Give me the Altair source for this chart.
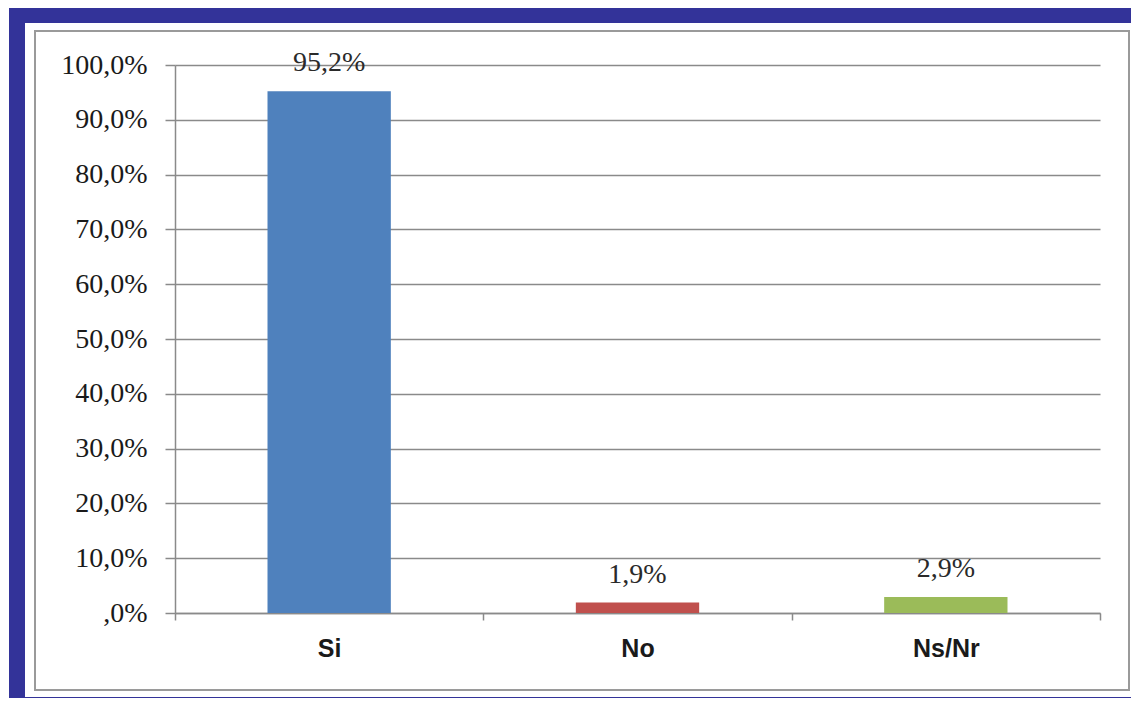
import altair as alt
import pandas as pd

categories = ["Si", "No", "Ns/Nr"]
values = [95.2, 1.9, 2.9]
colors = ["#4f81bd", "#c0504d", "#9bbb59"]
y_ticks = [0, 10, 20, 30, 40, 50, 60, 70, 80, 90, 100]

df = pd.DataFrame({"cat": categories, "val": values})

W, H = 925, 548

base = alt.Chart(df)

# decorative frame (dark blue band) and grey panel border
frame = alt.Chart(alt.Data(values=[{"k": 1}])).mark_rect(
    fillOpacity=0, stroke="#333399", strokeWidth=16
).encode(x=alt.value(-158), x2=alt.value(985), y=alt.value(-50), y2=alt.value(640))

panel = alt.Chart(alt.Data(values=[{"k": 1}])).mark_rect(
    fillOpacity=0, stroke="#9a9a9a", strokeWidth=2
).encode(x=alt.value(-140), x2=alt.value(954), y=alt.value(-34), y2=alt.value(625))

x_enc = alt.X(
    "cat:N",
    sort=categories,
    scale=alt.Scale(paddingInner=0, paddingOuter=0),
    axis=alt.Axis(
        title=None,
        labelAngle=0,
        tickBand="extent",
        tickSize=7,
        tickColor="#8a8a8a",
        tickWidth=1.5,
        domainColor="#8a8a8a",
        domainWidth=1.5,
        labelFont="Liberation Sans",
        labelFontWeight="bold",
        labelFontSize=25,
        labelColor="#1a1a1a",
        labelPadding=16,
    ),
)

bars = base.mark_bar(width=alt.RelativeBandSize(0.4)).encode(
    x=x_enc,
    y=alt.Y(
        "val:Q",
        scale=alt.Scale(domain=[0, 100], nice=False),
        axis=alt.Axis(
            title=None,
            values=y_ticks,
            labelExpr="datum.value == 0 ? ',0%' : replace(format(datum.value, '.1f'), '.', ',') + '%'",
            grid=True,
            gridColor="#8a8a8a",
            gridWidth=1.5,
            tickColor="#8a8a8a",
            tickWidth=1.5,
            tickSize=10,
            domainColor="#8a8a8a",
            domainWidth=1.5,
            labelFont="Liberation Serif",
            labelFontSize=28,
            labelColor="#1a1a1a",
            labelPadding=18,
        ),
    ),
    color=alt.Color("cat:N", scale=alt.Scale(domain=categories, range=colors), legend=None),
)

labels = base.transform_calculate(
    lab="replace(format(datum.val, '.1f'), '.', ',') + '%'"
).mark_text(
    font="Liberation Serif", fontSize=28, color="#2a2a2a", baseline="alphabetic", dy=-20
).encode(
    x=alt.X("cat:N", sort=categories),
    y=alt.Y("val:Q"),
    text="lab:N",
)

chart = alt.layer(frame, panel, bars, labels).properties(
    width=W,
    height=H,
    background="white",
    padding={"left": 167, "top": 57, "right": 31, "bottom": 85},
    autosize=alt.AutoSizeParams(type="none"),
).configure_view(stroke=None)

chart.save("out.html", embed_options={"renderer": "svg", "actions": False})
